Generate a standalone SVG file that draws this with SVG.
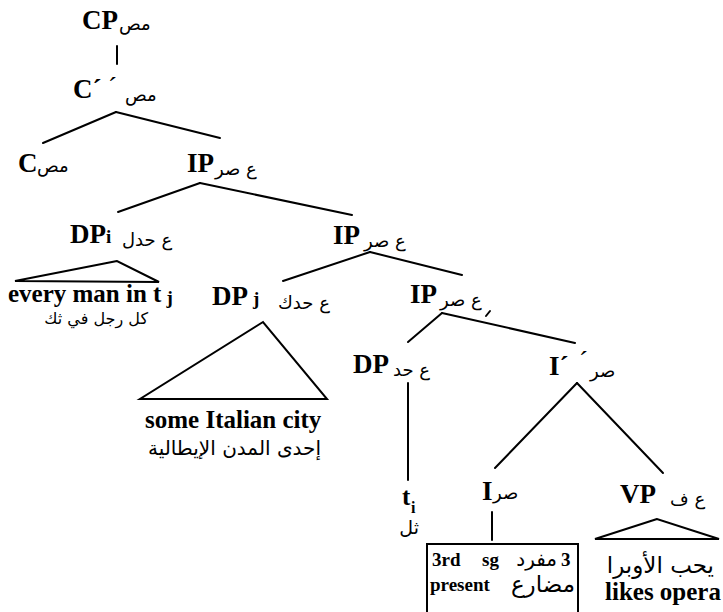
<svg xmlns="http://www.w3.org/2000/svg" width="723" height="612" viewBox="0 0 723 612">
<style>
.n{font-family:"Liberation Serif",serif;font-weight:bold;font-size:27px;fill:#000}
.l{font-family:"Liberation Serif",serif;font-weight:bold;font-size:25px;fill:#000}
.s{font-family:"Liberation Serif",serif;font-weight:bold;font-size:19px;fill:#000}
.a{font-family:"DejaVu Sans","Noto Sans",sans-serif;font-size:18px;fill:#000}
.r{font-family:"DejaVu Sans","Noto Sans",sans-serif;font-size:20px;fill:#000;text-anchor:end}
.e{stroke:#000;stroke-width:2;fill:none;stroke-linecap:round}
</style>
<rect width="723" height="612" fill="#fff"/>
<g id="connectors" class="e">
<line x1="117" y1="46" x2="117" y2="64"/>
<line x1="116" y1="112" x2="43" y2="143"/>
<line x1="116" y1="112" x2="220" y2="138"/>
<line x1="200" y1="183" x2="118" y2="212"/>
<line x1="200" y1="183" x2="352" y2="215"/>
<line x1="370" y1="252" x2="283" y2="281"/>
<line x1="370" y1="252" x2="462" y2="275"/>
<line x1="442" y1="313" x2="408" y2="342"/>
<line x1="442" y1="313" x2="575" y2="343"/>
<line x1="408" y1="383" x2="408" y2="480"/>
<line x1="577" y1="383" x2="495" y2="468"/>
<line x1="577" y1="383" x2="663" y2="473"/>
<line x1="492" y1="512" x2="492" y2="540"/>
<polygon points="117,261 15,281 159,282"/>
<polygon points="263,322 140,399 327,399"/>
<polygon points="657,519 595,539 719,539"/>
</g>
<g id="CP">
<text class="n" x="82" y="29">CP</text>
<text class="a" x="119" y="30">مص</text>
</g>
<g id="Cbar">
<text class="n" x="73" y="98">C´</text>
<text class="n" x="108" y="96" style="font-weight:normal">´</text>
<text class="a" x="125" y="101">مص</text>
</g>
<g id="C">
<text class="n" x="18" y="172">C</text>
<text class="a" x="37" y="172">مص</text>
</g>
<g id="IP1">
<text class="n" x="187" y="172">IP</text>
<text class="a" x="215" y="175">ع صر</text>
</g>
<g id="DPi">
<text class="n" x="70" y="243">DP<tspan style="font-size:19px">i</tspan></text>
<text class="a" x="122" y="246">ع حدل</text>
<text class="l" x="8" y="302">every man in t<tspan style="font-size:19px" dx="5" dy="2">j</tspan></text>
<text class="r" x="148" y="324" style="font-size:16px">كل رجل في ثك</text>
</g>
<g id="IP2">
<text class="n" x="333" y="244">IP</text>
<text class="a" x="364" y="247">ع صر</text>
</g>
<g id="DPj">
<text class="n" x="212" y="305">DP</text>
<text class="n" x="253" y="305" style="font-size:19px">j</text>
<text class="a" x="278" y="309">ع حدك</text>
<text class="l" x="145" y="428">some Italian city</text>
<text class="r" x="321" y="455">إحدى المدن الإيطالية</text>
</g>
<g id="IP3">
<text class="n" x="410" y="303">IP</text>
<text class="a" x="440" y="306">ع صر</text>
<line class="e" x1="486" y1="316" x2="490" y2="311"/>
</g>
<g id="DP">
<text class="n" x="353" y="373">DP</text>
<text class="a" x="393" y="376">ع حد</text>
<text class="l" x="402" y="505">t</text>
<text class="s" x="411" y="513" style="font-size:16px">i</text>
<text class="r" x="419" y="534" style="font-size:19px">ثل</text>
</g>
<g id="Ibar">
<text class="n" x="549" y="375">I´</text>
<text class="n" x="579" y="370" style="font-weight:normal">´</text>
<text class="a" x="590" y="377">صر</text>
</g>
<g id="I">
<text class="n" x="482" y="500">I</text>
<text class="a" x="493" y="499">صر</text>
<rect x="427" y="544" width="151" height="80" class="e"/>
<text class="s" x="432" y="566">3rd</text>
<text class="s" x="482" y="566">sg</text>
<text class="r" x="557" y="566">مفرد</text>
<text class="s" x="561" y="566">3</text>
<text class="s" x="430" y="591">present</text>
<text class="r" x="575" y="592" style="font-size:23px">مضارع</text>
</g>
<g id="VP">
<text class="n" x="620" y="503">VP</text>
<text class="a" x="670" y="505">ع ف</text>
<text class="r" x="714" y="573" style="font-size:23px">يحب الأوبرا</text>
<text class="l" x="605" y="600">likes opera</text>
</g>
</svg>
